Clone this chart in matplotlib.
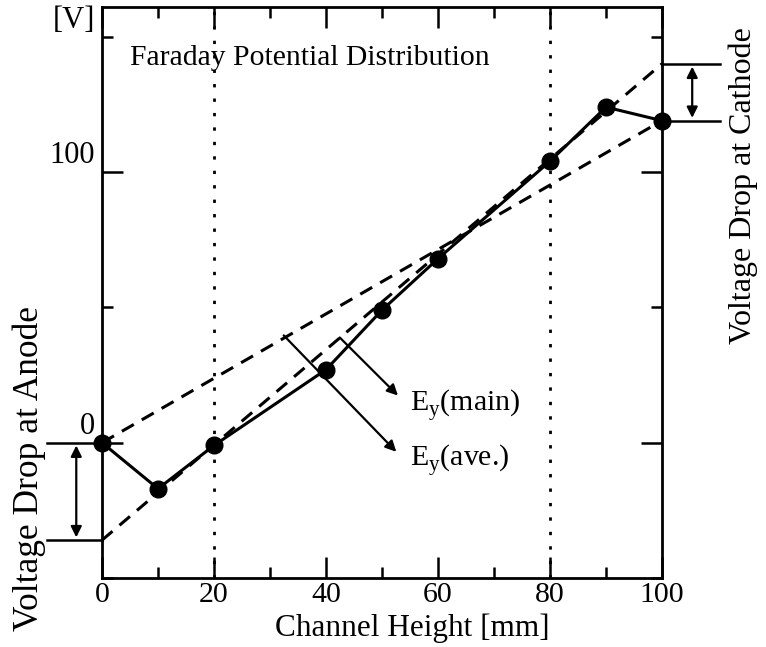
import matplotlib
matplotlib.use('Agg')
import matplotlib.pyplot as plt

plt.rcParams['font.family'] = ['Liberation Serif', 'DejaVu Serif']
plt.rcParams['mathtext.fontset'] = 'custom'
plt.rcParams['mathtext.rm'] = 'Liberation Serif'

# measured potential along the channel
channel = [0, 10, 20, 40, 50, 60, 80, 90, 100]
potential = [0, -17, -1, 27, 49, 68, 104, 124, 119]

# dashed fit lines (end points)
ave_x = [0, 100]
ave_y = [0, 119]
main_x = [0, 100]
main_y = [-36, 140]

# voltage drops
anode_drop = [0, -36]
cathode_drop = [140, 119]

fig = plt.figure(figsize=(7.66, 6.47), dpi=100)
ax = fig.add_axes([0.1332, 0.1066, 0.731, 0.8826])

ax.set_xlim(0, 100)
ax.set_ylim(-50, 161)

# dotted guides
for xv in [20, 80]:
    ax.axvline(xv, color='black', lw=2, ls=(0, (1.2, 4)), zorder=1)

ax.plot(ave_x, ave_y, color='black', lw=2.2, ls=(0, (4.5, 3)), zorder=2)
ax.plot(main_x, main_y, color='black', lw=2.2, ls=(0, (4.5, 3)), zorder=2)
ax.plot(channel, potential, color='black', lw=2.2, marker='o', ms=12, zorder=3, clip_on=False)

# ticks
ax.set_xticks([0, 20, 40, 60, 80, 100])
ax.set_xticks([10, 30, 50, 70, 90], minor=True)
ax.set_yticks([0, 100])
ax.set_yticks([-50, 50, 150], minor=True)
ax.set_yticklabels([])
ax.tick_params(which='both', direction='in', top=True, right=True, width=1.8, labelsize=21.5)
ax.tick_params(which='major', length=15, pad=3)
ax.tick_params(which='minor', length=8)
for s in ax.spines.values():
    s.set_linewidth(2)

# y labels sit above their ticks
for yv, lab in [(0, '0'), (100, '100'), (150, '[V]')]:
    ax.annotate(lab, xy=(0, yv), xycoords=('axes fraction', 'data'),
                xytext=(-7, 2), textcoords='offset pixels', ha='right', va='bottom', fontsize=22)

ax.text(30.9, -71.5, 'Channel Height [mm]', fontsize=22.5, va='baseline', ha='left', clip_on=False)

ax.text(5, 139.6, 'Faraday Potential Distribution', fontsize=21.3, va='baseline')

# voltage drop at anode
for yv in anode_drop:
    ax.plot([-9.8, 0], [yv, yv], color='black', lw=1.8, clip_on=False)
ax.annotate('', xy=(-4.6, anode_drop[1]), xytext=(-4.6, anode_drop[0]),
            arrowprops=dict(arrowstyle='<|-|>', color='black', lw=1.6, mutation_scale=16),
            annotation_clip=False)
ax.text(-13, -69.6, 'Voltage Drop at Anode', rotation=90, fontsize=25.5,
        ha='center', va='bottom', clip_on=False)

# voltage drop at cathode
for yv in cathode_drop:
    ax.plot([100, 110.4], [yv, yv], color='black', lw=1.8, clip_on=False)
ax.annotate('', xy=(105.4, cathode_drop[1]), xytext=(105.4, cathode_drop[0]),
            arrowprops=dict(arrowstyle='<|-|>', color='black', lw=1.6, mutation_scale=16),
            annotation_clip=False)
ax.text(114.6, 153.7, 'Voltage Drop at Cathode', rotation=90, fontsize=23,
        ha='center', va='top', clip_on=False)

# field direction arrows
ax.annotate('', xy=(53.2, 16.7), xytext=(42.1, 39.6),
            arrowprops=dict(arrowstyle='-|>', color='black', lw=1.6, mutation_scale=16))
ax.annotate('', xy=(52.9, -4.1), xytext=(32.1, 40.4),
            arrowprops=dict(arrowstyle='-|>', color='black', lw=1.6, mutation_scale=16))
ax.text(55, 11.9, r'E$_{\rm y}$(main)', fontsize=21.5, va='baseline')
ax.text(55, -8.5, r'E$_{\rm y}$(ave.)', fontsize=21.5, va='baseline')

fig.savefig('out.png', dpi=100)
